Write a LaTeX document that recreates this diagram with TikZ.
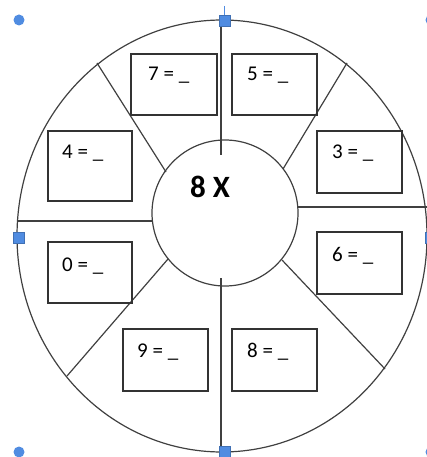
\documentclass[tikz,border=0pt]{standalone}
\usepackage{fontspec}
\setmainfont{Carlito}
\begin{document}
\begin{tikzpicture}[x=1pt,y=-1pt,
  outl/.style={draw=black!75, line width=1.2pt},
  boxst/.style={draw=black!80, line width=1.4pt},
  eq/.style={anchor=base west, inner sep=0pt, font=\fontsize{21}{24}\selectfont},
  handlesq/.style={fill=handleblue, draw=handleblue!80!black, line width=0.4pt},
  handlecirc/.style={fill=handleblue, draw=none}]
\definecolor{handleblue}{RGB}{80,140,225}
\useasboundingbox (0,0) rectangle (427,457);
% outer ellipse and inner circle
\draw[outl] (222,236) ellipse [x radius=205, y radius=216];
\draw[outl] (225,213) circle [radius=73];
% divider end points
\coordinate (vt1) at (221,20);  \coordinate (vt2) at (221,155);
\coordinate (vb1) at (221,278); \coordinate (vb2) at (221,452);
\coordinate (hl1) at (17,221);  \coordinate (hl2) at (153,221);
\coordinate (hr1) at (297,207); \coordinate (hr2) at (427,207);
\coordinate (ul1) at (97,63);   \coordinate (ul2) at (166,172);
\coordinate (ur1) at (347,63);  \coordinate (ur2) at (283,169);
\coordinate (ll1) at (67,376);  \coordinate (ll2) at (168,259);
\coordinate (lr1) at (385,369); \coordinate (lr2) at (282,260);
\foreach \a/\b in {vt1/vt2,vb1/vb2,hl1/hl2,hr1/hr2,ul1/ul2,ur1/ur2,ll1/ll2,lr1/lr2}
  \draw[outl] (\a) -- (\b);
% boxes
\draw[boxst] (131,54) rectangle (217,115);
\draw[boxst] (232,54) rectangle (317,115);
\draw[boxst] (48,131) rectangle (132,201);
\draw[boxst] (317,131) rectangle (402,193);
\draw[boxst] (48,242) rectangle (132,303);
\draw[boxst] (317,232) rectangle (402,294);
\draw[boxst] (123,329) rectangle (208,391);
\draw[boxst] (232,329) rectangle (317,391);
% texts
\node[eq] (t7) at (148,81) {7 = \_};
\node[eq] (t5) at (247,81) {5 = \_};
\node[eq] (t4) at (62,158) {4 = \_};
\node[eq] (t3) at (332,159) {3 = \_};
\node[eq] (t0) at (62,271) {0 = \_};
\node[eq] (t6) at (332,261) {6 = \_};
\node[eq] (t9) at (137,357) {9 = \_};
\node[eq] (t8) at (247,357) {8 = \_};
\node[anchor=base west, inner sep=0pt, font=\fontsize{31}{34}\bfseries\selectfont] (title) at (190,197) {8 X};
% selection handles
\draw[handleblue, line width=1pt] (224,6) -- (224,20);
\foreach \p in {(19,20),(19,452),(431,20),(431,452)}
  \fill[handleblue] \p circle [radius=5.5];
\foreach \p in {(225,21),(19,238),(431,238),(225,452)}
  \filldraw[handlesq] \p ++(-5.5,-5.5) rectangle ++(11,11);
\end{tikzpicture}
\end{document}
